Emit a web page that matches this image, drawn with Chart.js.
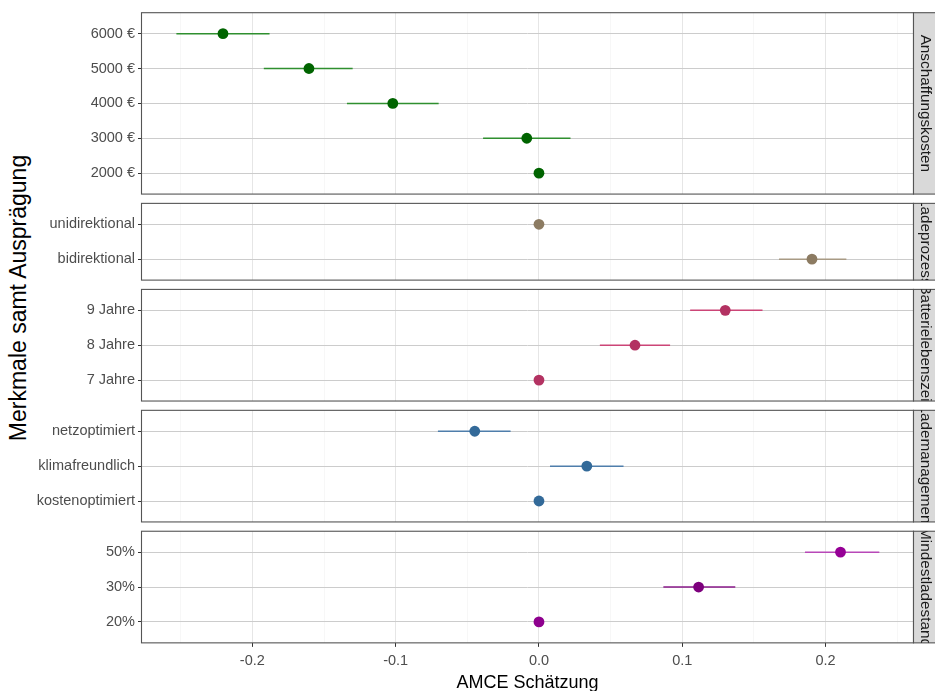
<!DOCTYPE html>
<html><head><meta charset="utf-8">
<script src="https://cdn.jsdelivr.net/npm/chart.js@4"></script>
<style>
html,body{margin:0;padding:0;background:#fff;}
#wrap{position:relative;width:935px;height:691px;overflow:hidden;background:#fff;}
#wrap canvas{position:absolute;left:0;}
#ytitle{position:absolute;left:18px;top:298px;font:23px "Liberation Sans",Arial,sans-serif;color:#000;white-space:nowrap;transform:translate(-50%,-50%) rotate(-90deg);}
</style></head><body>
<div id="wrap"><div id="ytitle">Merkmale samt Ausprägung</div></div>
<script>
// ---- data ----
const facetNames = ["Anschaffungskosten","Ladeprozess","Batterielebenszeit","Lademanagement","Mindestladestand"];

const kostenLabels = ["6000 €","5000 €","4000 €","3000 €","2000 €"];
const kostenEst = [-0.2205,-0.1605,-0.102,-0.0085,0];
const kostenLo  = [-0.253,-0.192,-0.134,-0.039,null];
const kostenHi  = [-0.188,-0.130,-0.070,0.022,null];

const ladeLabels = ["unidirektional","bidirektional"];
const ladeEst = [0,0.1905];
const ladeLo  = [null,0.1675];
const ladeHi  = [null,0.2145];

const battLabels = ["9 Jahre","8 Jahre","7 Jahre"];
const battEst = [0.130,0.067,0];
const battLo  = [0.1055,0.0425,null];
const battHi  = [0.156,0.0915,null];

const mgmtLabels = ["netzoptimiert","klimafreundlich","kostenoptimiert"];
const mgmtEst = [-0.0448,0.0334,0];
const mgmtLo  = [-0.0705,0.0077,null];
const mgmtHi  = [-0.0198,0.059,null];

const mindLabels = ["50%","30%","20%"];
const mindEst = [0.2104,0.1114,0];
const mindLo  = [0.1856,0.0868,null];
const mindHi  = [0.2375,0.137,null];

const xMajorTicks = [-0.2,-0.1,0,0.1,0.2];
const xMinorTicks = [-0.25,-0.15,-0.05,0.05,0.15,0.25];
const xMin = -0.277, xMax = 0.261;

// ---- styles ----
const pointColors = [
  ["#006400","#006400","#006400","#006400","#006400"],
  ["#8C7B62","#8C7B62"],
  ["#B33262","#B33262","#B33262"],
  ["#336A99","#336A99","#336A99"],
  ["#960096","#7D007D","#8E008E"]
];
const barColors = [
  ["#2F8F2F","#2F8F2F","#2F8F2F","#2F8F2F","#2F8F2F"],
  ["#A89A84","#A89A84"],
  ["#CC4577","#CC4577","#CC4577"],
  ["#4F7EAB","#4F7EAB","#4F7EAB"],
  ["#B848B8","#8A1A8A","#8A1A8A"]
];

const panels = [
  [kostenLabels,kostenEst,kostenLo,kostenHi],
  [ladeLabels,ladeEst,ladeLo,ladeHi],
  [battLabels,battEst,battLo,battHi],
  [mgmtLabels,mgmtEst,mgmtLo,mgmtHi],
  [mindLabels,mindEst,mindLo,mindHi]
];

const FONT = '"Liberation Sans", Arial, sans-serif';
const UNIT = 34.88, GAP = 9.3, TOP0 = 12.7, LEFT = 142, RIGHT = 913, W = 935, H = 691;
const allXTicks = xMajorTicks.concat(xMinorTicks).sort((a,b)=>a-b);
const isMajor = v => xMajorTicks.some(m => Math.abs(m - v) < 1e-9);

const stripPlugin = {
  id: 'strip',
  afterDraw(chart, args, opts) {
    const {ctx} = chart;
    const {left, right, top, bottom} = chart.chartArea;
    ctx.save();
    ctx.strokeStyle = '#555555';
    ctx.lineWidth = 1.1;
    ctx.strokeRect(left - 0.5, top, right - left + 1, bottom - top);
    const sx = right + 0.5, sw = 23;
    ctx.fillStyle = '#D9D9D9';
    ctx.fillRect(sx, top, sw, bottom - top);
    ctx.strokeRect(sx, top, sw, bottom - top);
    ctx.beginPath(); ctx.rect(sx, top, sw, bottom - top); ctx.clip();
    ctx.translate(sx + sw / 2, (top + bottom) / 2);
    ctx.rotate(Math.PI / 2);
    ctx.fillStyle = '#1A1A1A';
    ctx.font = '15.3px ' + FONT;
    ctx.textAlign = 'center';
    ctx.textBaseline = 'middle';
    ctx.fillText(opts.text, 0, 0);
    ctx.restore();
  }
};

const wrap = document.getElementById('wrap');
let panelTop = TOP0;
panels.forEach((p, idx) => {
  const [labels, est, lo, hi] = p;
  const n = labels.length;
  const ph = (n - 1 + 1.2) * UNIT;
  const isLast = idx === panels.length - 1;
  const cTop = Math.floor(panelTop) - 3;
  const padT = panelTop - cTop;
  const panelBottom = panelTop + ph;
  const cBottom = isLast ? H + 3 : Math.ceil(panelBottom) + 3;
  const cH = cBottom - cTop;
  const padB = isLast ? 0 : cBottom - panelBottom;
  const xAxisH = isLast ? cBottom - panelBottom : 0;

  const canvas = document.createElement('canvas');
  canvas.width = W; canvas.height = cH;
  canvas.style.top = cTop + 'px';
  canvas.style.width = W + 'px'; canvas.style.height = cH + 'px';
  wrap.appendChild(canvas);

  const datasets = [];
  labels.forEach((lab, i) => {
    if (lo[i] !== null && hi[i] !== null) {
      datasets.push({
        type: 'line',
        data: [{x: lo[i], y: i}, {x: hi[i], y: i}],
        borderColor: barColors[idx][i],
        borderWidth: 1.5,
        pointRadius: 0,
        showLine: true,
        order: 2
      });
    }
  });
  datasets.push({
    type: 'scatter',
    data: est.map((v, i) => ({x: v, y: i})),
    pointBackgroundColor: pointColors[idx],
    pointBorderWidth: 0,
    pointRadius: 5.4,
    order: 0
  });

  new Chart(canvas, {
    type: 'scatter',
    data: {datasets},
    plugins: [stripPlugin],
    options: {
      responsive: false,
      animation: false,
      devicePixelRatio: 1,
      events: [],
      layout: {autoPadding: false, padding: {left: 0, right: W - RIGHT, top: padT, bottom: padB}},
      plugins: {
        legend: {display: false},
        tooltip: {enabled: false},
        strip: {text: facetNames[idx]}
      },
      scales: {
        x: {
          type: 'linear',
          min: xMin, max: xMax,
          afterBuildTicks: s => { s.ticks = allXTicks.map(v => ({value: v})); },
          afterFit: s => { s.height = xAxisH; s.paddingLeft = 0; s.paddingRight = 0; },
          border: {display: false},
          grid: {
            color: c => (c.tick && isMajor(c.tick.value)) ? '#E6E6E6' : '#F3F3F3',
            lineWidth: c => (c.tick && isMajor(c.tick.value)) ? 1 : 0.7,
            drawTicks: isLast,
            tickLength: 4,
            tickColor: c => (c.tick && isMajor(c.tick.value)) ? '#333333' : 'rgba(0,0,0,0)'
          },
          ticks: {
            display: isLast,
            autoSkip: false,
            maxRotation: 0,
            padding: 5.5,
            color: '#4D4D4D',
            font: {family: FONT, size: 14.5},
            callback: v => isMajor(v) ? v.toFixed(1) : ''
          },
          title: {
            display: isLast,
            text: 'AMCE Schätzung',
            color: '#000',
            font: {family: FONT, size: 18},
            padding: {top: 0, bottom: 0}
          }
        },
        y: {
          type: 'linear',
          reverse: true,
          min: -0.6, max: n - 1 + 0.6,
          afterBuildTicks: s => { s.ticks = labels.map((l, i) => ({value: i})); },
          afterFit: s => { s.width = LEFT; s.paddingTop = 0; s.paddingBottom = 0; },
          border: {display: false},
          grid: {
            color: '#CCCCCC',
            lineWidth: 1,
            drawTicks: true,
            tickLength: 4,
            tickColor: '#333333'
          },
          ticks: {
            autoSkip: false,
            padding: 3,
            color: '#4D4D4D',
            font: {family: FONT, size: 14.5},
            callback: v => labels[v]
          }
        }
      }
    }
  });
  panelTop = panelBottom + GAP;
});
</script>
</body></html>
